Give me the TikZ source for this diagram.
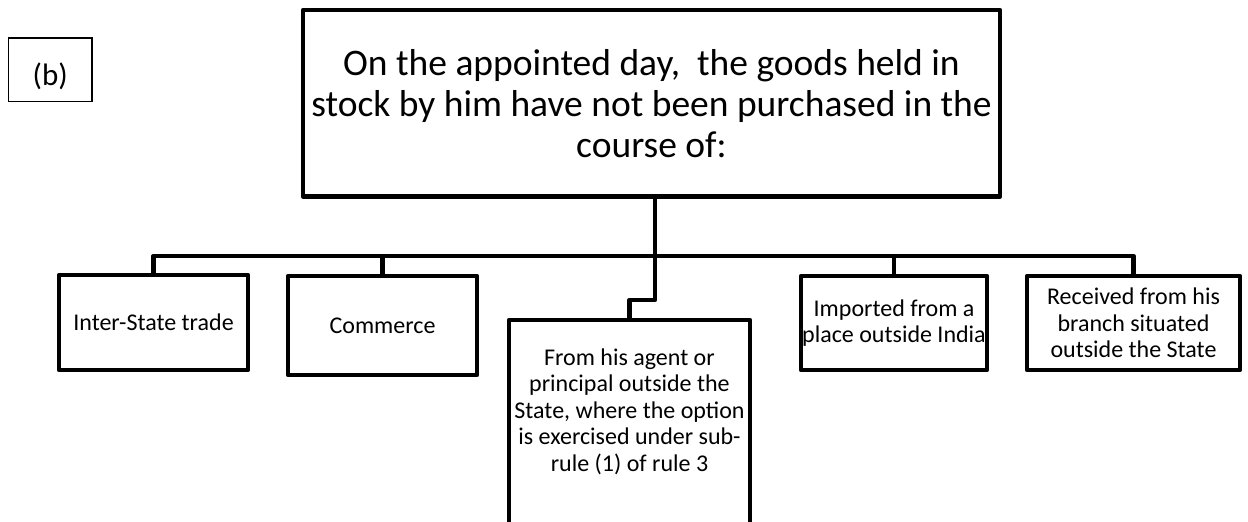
\documentclass[tikz,border=0pt]{standalone}
\usepackage{fontspec}
\setmainfont{Carlito}
\begin{document}
\begin{tikzpicture}[x=1pt,y=-1pt,
  box/.style={draw,line width=4.8pt,line join=round,inner sep=2pt,align=center},
  small/.style={font=\fontsize{24}{26.5}\selectfont},
  wire/.style={line width=4.8pt,line join=round}]
\useasboundingbox (0,0) rectangle (1248,522);
\node[draw,line width=1.2pt,minimum width=83.5pt,minimum height=63.5pt,inner sep=0pt,text height=32pt,text depth=0pt,font=\fontsize{31}{36}\selectfont] (tag) at (50.25,69.75) {(b)\hspace{11pt}};
\node[box,minimum width=697pt,minimum height=186.5pt,font=\fontsize{37.5}{41}\selectfont] (top) at (651.5,103.25) {On the appointed day,\ \ the goods held in\\stock by him have not been purchased in the\\course of:};
\node[box,small,minimum width=189pt,minimum height=95pt] (inter) at (153.5,322.5) {Inter-State trade};
\node[box,small,minimum width=189pt,minimum height=99pt] (comm) at (382.5,325.5) {Commerce};
\node[box,small,minimum width=241pt,minimum height=206pt] (agent) at (629.5,423) {From his agent or\\principal outside the\\State, where the option\\is exercised under sub-\\rule (1) of rule 3\\~};
\node[box,small,inner xsep=0pt,minimum width=186pt,minimum height=94pt] (import) at (894,323) {Imported from a\\place outside India};
\node[box,small,minimum width=213pt,minimum height=94pt] (branch) at (1133.5,323) {Received from his\\branch situated\\outside the State};
\coordinate (bus) at (655,256);
\coordinate (kink) at (655,300);
\draw[wire] (top.south -| bus) -- (bus);
\draw[wire] (inter.north) |- (bus) -| (branch.north);
\draw[wire] (comm.north) -- (comm.north |- bus);
\draw[wire] (import.north) -- (import.north |- bus);
\draw[wire] (bus) -- (kink) -| (agent.north);
\end{tikzpicture}
\end{document}
